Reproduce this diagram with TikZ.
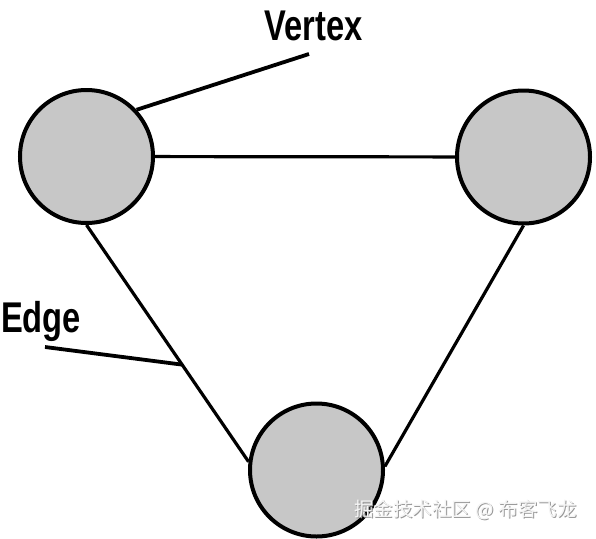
\documentclass[tikz,border=0pt]{standalone}
\usepackage{fontspec}
\setmainfont{Liberation Sans}
\newfontfamily\condfont[FakeStretch=0.76]{Liberation Sans}
\newfontfamily\cjkfont{Noto Sans CJK SC}
\usetikzlibrary{positioning}
\definecolor{vtxGray}{gray}{0.78}

\tikzset{
  vtx/.style={circle, draw=black, fill=vtxGray, line width=4pt, minimum size=133pt, inner sep=0pt},
  link/.style={line width=3.2pt},
  pointer/.style={line width=3.8pt},
  lbl/.style={font=\condfont\bfseries\fontsize{43}{43}\selectfont, inner sep=0pt, anchor=base},
  mark text/.style={font=\cjkfont\fontsize{19.5}{19.5}\selectfont, inner sep=0pt},
}

\begin{document}
\begin{tikzpicture}[x=1pt, y=-1pt]
  \useasboundingbox (0,0) rectangle (596,538);

  % vertices
  \node[vtx] (vtxL) at (86.5,156.5) {};
  \node[vtx] (vtxR) at (523.5,157) {};
  \node[vtx] (vtxB) at (316.5,470) {};

  % edges
  \draw[link] (vtxL) -- (vtxR);
  \draw[link] (vtxL.south) -- (vtxB.173) coordinate[pos=0.59] (edgeHit);
  \draw[link] (vtxR.south) -- (vtxB.3);

  % labels
  \node[lbl] (vertexLbl) at (313.5,40) {Vertex};
  \coordinate (vertexTip) at (309,54);
  \draw[pointer] (vertexTip) -- (vtxL.43);

  \node[lbl] (edgeLbl) at (41,332) {Edge};
  \coordinate (edgeTip) at (45,347);
  \draw[pointer] (edgeTip) -- (edgeHit);

  % watermark
  \node[mark text, text=gray!80] (markShadow) at (466.5,511) {掘金技术社区 @ 布客飞龙};
  \node[mark text, text=gray!8] (mark) at (465.5,510) {掘金技术社区 @ 布客飞龙};
\end{tikzpicture}
\end{document}
